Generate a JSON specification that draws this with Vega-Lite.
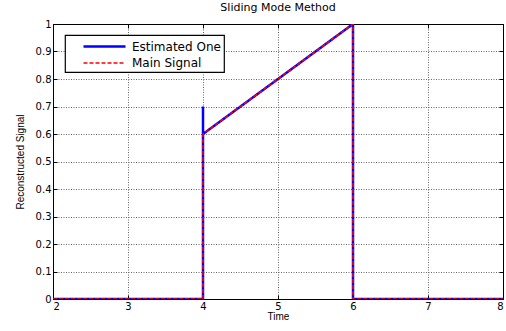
{
  "$schema": "https://vega.github.io/schema/vega-lite/v6.json",
  "width": 450,
  "height": 275,
  "autosize": {"type": "none"},
  "padding": {"left": 53, "top": 24, "right": 3, "bottom": 32},
  "background": "white",
  "title": {
    "text": "Sliding Mode Method",
    "font": "DejaVu Sans",
    "fontSize": 11,
    "fontWeight": "normal",
    "color": "#000",
    "offset": 6
  },
  "config": {
    "view": {"stroke": "#000", "strokeWidth": 1},
    "legend": {"strokeColor": "#000000", "strokeWidth": 1.2, "fillColor": "#ffffff"},
    "axis": {
      "domainColor": "#000",
      "tickColor": "#000",
      "labelFont": "DejaVu Sans",
      "labelFontSize": 10,
      "labelColor": "#000",
      "titleFont": "Liberation Sans",
      "titleFontSize": 10,
      "titleFontWeight": "normal",
      "titleColor": "#000",
      "gridColor": "#666",
      "gridDash": [1, 1.5],
      "gridWidth": 1,
      "tickSize": -4,
      "labelPadding": 6
    }
  },
  "data": {
    "values": [
      {"series": "Estimated One", "i": 0, "t": 2, "v": 0},
      {"series": "Estimated One", "i": 1, "t": 4, "v": 0},
      {"series": "Estimated One", "i": 2, "t": 4, "v": 0.7},
      {"series": "Estimated One", "i": 3, "t": 4, "v": 0.42},
      {"series": "Estimated One", "i": 4, "t": 4, "v": 0.6},
      {"series": "Estimated One", "i": 5, "t": 6, "v": 1},
      {"series": "Estimated One", "i": 6, "t": 6, "v": 0},
      {"series": "Estimated One", "i": 7, "t": 8, "v": 0},
      {"series": "Main Signal", "i": 0, "t": 2, "v": 0},
      {"series": "Main Signal", "i": 1, "t": 4, "v": 0},
      {"series": "Main Signal", "i": 2, "t": 4, "v": 0.6},
      {"series": "Main Signal", "i": 3, "t": 6, "v": 1},
      {"series": "Main Signal", "i": 4, "t": 6, "v": 0},
      {"series": "Main Signal", "i": 5, "t": 8, "v": 0}
    ]
  },
  "resolve": {"axis": {"x": "independent", "y": "independent"}},
  "layer": [
    {
      "mark": {"type": "line", "clip": true},
      "encoding": {
        "x": {
          "field": "t",
          "type": "quantitative",
          "scale": {"domain": [2, 8], "nice": false},
          "axis": {"title": "Time", "values": [2, 3, 4, 5, 6, 7, 8], "titlePadding": 0, "grid": true}
        },
        "y": {
          "field": "v",
          "type": "quantitative",
          "scale": {"domain": [0, 1], "nice": false},
          "axis": {
            "title": "Reconstructed Signal",
            "values": [0, 0.1, 0.2, 0.3, 0.4, 0.5, 0.6, 0.7, 0.8, 0.9, 1],
            "format": "~g",
            "titlePadding": 10,
            "grid": true
          }
        },
        "order": {"field": "i", "type": "quantitative"},
        "color": {
          "field": "series",
          "type": "nominal",
          "scale": {"domain": ["Estimated One", "Main Signal"], "range": ["#0000ff", "#ff0000"]},
          "legend": {
            "title": null,
            "orient": "none",
            "legendX": 12,
            "legendY": 11,
            "strokeColor": "#000000",
            "fillColor": "#ffffff",
            "padding": 3,
            "symbolType": "M0,0H6",
            "symbolSize": 196,
            "symbolOffset": 7,
            "labelFont": "DejaVu Sans",
            "labelFontSize": 12,
            "labelColor": "#000",
            "labelOffset": 40,
            "rowPadding": 2
          }
        },
        "strokeDash": {
          "field": "series",
          "type": "nominal",
          "scale": {"domain": ["Estimated One", "Main Signal"], "range": [[1, 0], [4, 2]]},
          "legend": null
        },
        "strokeWidth": {
          "field": "series",
          "type": "nominal",
          "scale": {"domain": ["Estimated One", "Main Signal"], "range": [2.5, 1.5]},
          "legend": null
        }
      }
    },
    {
      "mark": {"type": "line", "opacity": 0},
      "encoding": {
        "x": {
          "field": "t",
          "type": "quantitative",
          "axis": {"orient": "top", "title": null, "labels": false, "grid": false, "values": [2, 3, 4, 5, 6, 7, 8]}
        },
        "y": {
          "field": "v",
          "type": "quantitative",
          "axis": {
            "orient": "right",
            "title": null,
            "labels": false,
            "grid": false,
            "values": [0, 0.1, 0.2, 0.3, 0.4, 0.5, 0.6, 0.7, 0.8, 0.9, 1]
          }
        },
        "order": {"field": "i", "type": "quantitative"},
        "detail": {"field": "series"}
      }
    }
  ]
}
